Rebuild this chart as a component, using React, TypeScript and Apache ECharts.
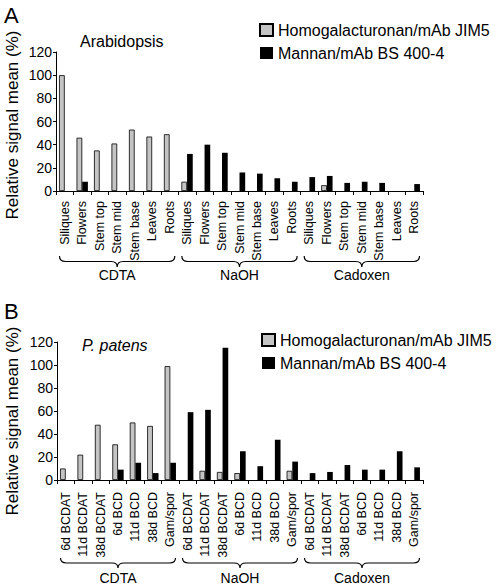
import React, { useEffect, useRef } from "react";
import * as echarts from "echarts";

// ---- data ----
const groups = ["CDTA", "NaOH", "Cadoxen"];
const tissuesA = ["Siliques", "Flowers", "Stem top", "Stem mid", "Stem base", "Leaves", "Roots"];
const stagesB = ["6d BCDAT", "11d BCDAT", "38d BCDAT", "6d BCD", "11d BCD", "38d BCD", "Gam/spor"];
const seriesNames = ["Homogalacturonan/mAb JIM5", "Mannan/mAb BS 400-4"];

// Panel A (Arabidopsis): CDTA | NaOH | Cadoxen
const hgA = [100, 46, 35, 41, 53, 47, 49, 8, 0, 0, 0, 0, 0, 0, 0, 5, 0, 0, 0, 0, 0];
const mannanA = [0, 8, 0, 0, 0, 0, 0, 32, 40, 33, 16, 15, 11, 8, 12, 13, 7, 8, 7, 0, 6];
// Panel B (P. patens)
const hgB = [10, 22, 48, 31, 50, 47, 99, 0, 8, 7, 6, 0, 0, 8, 0, 0, 0, 0, 0, 0, 0];
const mannanB = [0, 0, 0, 9, 15, 6, 15, 59, 61, 115, 25, 12, 35, 16, 6, 7, 13, 9, 9, 25, 11];

const yMin = 0;
const yMax = 120;
const yInterval = 20;
const yTitle = "Relative signal mean (%)";

const FONT = "'Liberation Sans', Arial, Helvetica, sans-serif";

const Brace = (echarts.graphic as any).extendShape({
  type: "brace",
  shape: { x1: 0, x2: 0, y: 0, h: 10 },
  buildPath(ctx: any, s: any) {
    const xm = (s.x1 + s.x2) / 2;
    const ym = s.y + s.h / 2;
    const yt = s.y + s.h;
    const r = 6;
    ctx.moveTo(s.x1, s.y);
    ctx.quadraticCurveTo(s.x1, ym, s.x1 + r, ym);
    ctx.lineTo(xm - r, ym);
    ctx.quadraticCurveTo(xm, ym, xm, yt);
    ctx.quadraticCurveTo(xm, ym, xm + r, ym);
    ctx.lineTo(s.x2 - r, ym);
    ctx.quadraticCurveTo(s.x2, ym, s.x2, s.y);
  },
});
(echarts.graphic as any).registerShape("brace", Brace);

function cats(labels: string[]) {
  return groups.flatMap((g) => labels.map((t) => g + "|" + t));
}
// zero readings are drawn as empty slots
const bars = (vals: number[]) => vals.map((v) => (v === 0 ? "-" : v));

export default function App() {
  const ref = useRef<HTMLDivElement>(null);
  useEffect(() => {
    if (!ref.current) return;
    const chart = echarts.init(ref.current, undefined, { renderer: "svg" });

    const xAxisBase = (gridIndex: number, labels: string[], margin: number) => ({
      type: "category" as const,
      gridIndex,
      data: cats(labels),
      axisLine: { show: true, lineStyle: { color: "#000", width: 1 } },
      axisTick: { show: true, interval: 0, length: 4, lineStyle: { color: "#000" } },
      axisLabel: {
        interval: 0,
        rotate: 90,
        margin,
        fontSize: 12.5,
        color: "#000",
        fontFamily: FONT,
        formatter: (v: string) => v.split("|")[1],
      },
    });
    const yAxisBase = (gridIndex: number) => ({
      type: "value" as const,
      gridIndex,
      min: yMin,
      max: yMax,
      interval: yInterval,
      axisLine: { show: true, lineStyle: { color: "#000", width: 1 } },
      axisTick: { show: true, length: 3, lineStyle: { color: "#000" } },
      axisLabel: { fontSize: 14, color: "#000", fontFamily: FONT, margin: 4 },
      splitLine: { show: false },
    });
    const grayStyle = { color: "#c4c4c4", borderColor: "#000", borderWidth: 0.8 };
    const blackStyle = { color: "#000" };
    const barCommon = { barGap: "0%", barCategoryGap: "35%" };

    const legendBase = (left: number, top: number) => ({
      left,
      top,
      orient: "vertical" as const,
      icon: "rect",
      itemWidth: 13,
      itemHeight: 12,
      itemGap: 7,
      selectedMode: false,
      data: seriesNames,
      textStyle: { fontSize: 16, color: "#000", fontFamily: FONT },
    });

    chart.setOption({
      animation: false,
      backgroundColor: "#fff",
      grid: [
        { left: 56, right: 75, top: 52, height: 139 },
        { left: 57, right: 75, top: 342, height: 138 },
      ],
      xAxis: [xAxisBase(0, tissuesA, 10), xAxisBase(1, stagesB, 12)],
      yAxis: [yAxisBase(0), yAxisBase(1)],
      legend: [legendBase(254, 17), legendBase(256, 327)],
      series: [
        { type: "bar", name: seriesNames[0], xAxisIndex: 0, yAxisIndex: 0, data: bars(hgA), itemStyle: grayStyle, ...barCommon },
        { type: "bar", name: seriesNames[1], xAxisIndex: 0, yAxisIndex: 0, data: bars(mannanA), itemStyle: blackStyle, ...barCommon },
        { type: "bar", name: seriesNames[0], xAxisIndex: 1, yAxisIndex: 1, data: bars(hgB), itemStyle: grayStyle, ...barCommon },
        { type: "bar", name: seriesNames[1], xAxisIndex: 1, yAxisIndex: 1, data: bars(mannanB), itemStyle: blackStyle, ...barCommon },
      ],
    });

    // braces and group labels from axis positions
    const n = tissuesA.length;
    const elements: any[] = [];
    const panelDefs = [
      { axis: 0, braceOffset: 65, h: 11, labelOffset: 84 },
      { axis: 1, braceOffset: 78, h: 10, labelOffset: 98 },
    ];
    panelDefs.forEach((p) => {
      const x0 = chart.convertToPixel({ xAxisIndex: p.axis }, 0) as number;
      const x1 = chart.convertToPixel({ xAxisIndex: p.axis }, 1) as number;
      const band = x1 - x0;
      const yBase = chart.convertToPixel({ yAxisIndex: p.axis }, 0) as number;
      groups.forEach((g, gi) => {
        const start = (chart.convertToPixel({ xAxisIndex: p.axis }, gi * n) as number) - band / 2;
        const end = (chart.convertToPixel({ xAxisIndex: p.axis }, gi * n + n - 1) as number) + band / 2;
        elements.push({
          type: "brace",
          shape: { x1: start + 3.5, x2: end - 3.5, y: yBase + p.braceOffset, h: p.h },
          style: { stroke: "#000", fill: "none", lineWidth: 1.2 },
          silent: true,
        });
        elements.push({
          type: "text",
          x: (start + end) / 2,
          y: yBase + p.labelOffset,
          style: { text: g, fontSize: 14, fontFamily: FONT, fill: "#000", align: "center", verticalAlign: "middle" },
        });
      });
    });

    const textEl = (text: string, x: number, y: number, size: number, extra: any = {}) => ({
      type: "text",
      x,
      y,
      style: { text, fontSize: size, fontFamily: FONT, fill: "#000", ...extra },
    });

    elements.push(textEl("A", 4, 4, 22, { align: "left", verticalAlign: "top" }));
    elements.push(textEl("B", 4, 300, 22, { align: "left", verticalAlign: "top" }));
    elements.push(textEl("Arabidopsis", 80, 41, 16, { align: "left", verticalAlign: "middle" }));
    elements.push(textEl("P. patens", 82, 345, 16, { align: "left", verticalAlign: "middle", fontStyle: "italic" }));
    elements.push({
      type: "text",
      x: 12,
      y: 125,
      rotation: Math.PI / 2,
      style: { text: yTitle, fontSize: 17, fontFamily: FONT, fill: "#000", align: "center", verticalAlign: "middle" },
    });
    elements.push({
      type: "text",
      x: 12,
      y: 421,
      rotation: Math.PI / 2,
      style: { text: yTitle, fontSize: 17, fontFamily: FONT, fill: "#000", align: "center", verticalAlign: "middle" },
    });

    chart.setOption({ graphic: { elements } });

    return () => chart.dispose();
  }, []);
  return (
    <div
      ref={ref}
      style={{ position: "absolute", left: 0, top: 0, width: 498, height: 585, background: "#fff" }}
    />
  );
}
